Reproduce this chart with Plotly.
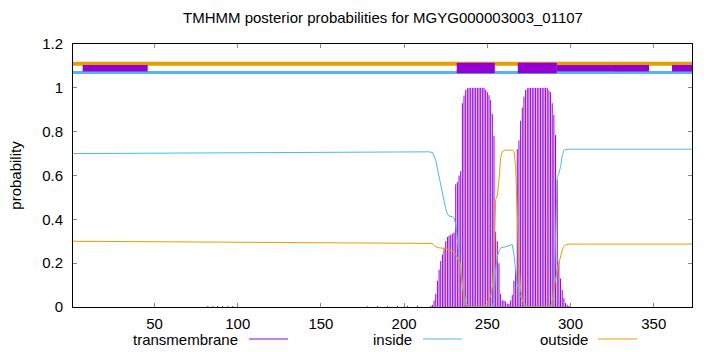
import plotly.graph_objects as go

# ---------------- data ----------------
title_text = "TMHMM posterior probabilities for MGYG000003003_01107"
seq_len = 373
x_ticks = [50, 100, 150, 200, 250, 300, 350]
y_ticks = [0, 0.2, 0.4, 0.6, 0.8, 1.0, 1.2]
y_tick_labels = ["0", "0.2", "0.4", "0.6", "0.8", "1", "1.2"]
legend_names = ["transmembrane", "inside", "outside"]

# transmembrane posterior (impulses), residues with visible values
tm_pos = [82, 85, 88, 91, 94, 97, 178, 184, 190, 196, 202, 208,
          216, 217, 218, 219, 220, 221, 222, 223, 224, 225, 226, 227, 228, 229, 230,
          231, 232, 233, 234, 235, 236, 237, 238, 239, 240, 241, 242, 243, 244, 245,
          246, 247, 248, 249, 250, 251, 252, 253, 254, 255, 256, 257, 258, 259, 260,
          261, 262, 263, 264, 265, 266, 267, 268, 269, 270, 271, 272, 273, 274, 275,
          276, 277, 278, 279, 280, 281, 282, 283, 284, 285, 286, 287, 288, 289, 290,
          291, 292, 293, 294, 295, 296, 297, 298, 299, 300]
tm_val = [0.004, 0.004, 0.005, 0.005, 0.004, 0.004, 0.003, 0.004, 0.004, 0.005, 0.005, 0.006,
          0.005, 0.01, 0.03, 0.06, 0.12, 0.17, 0.21, 0.24, 0.27, 0.30, 0.32, 0.325, 0.33, 0.335, 0.34,
          0.56, 0.57, 0.60, 0.62, 0.93, 0.965, 0.99, 0.998, 1.0, 1.0, 1.0, 1.0, 1.0, 1.0, 1.0,
          1.0, 1.0, 1.0, 0.99, 0.98, 0.967, 0.944, 0.88, 0.78, 0.344, 0.30, 0.20, 0.06, 0.03, 0.03,
          0.025, 0.015, 0.015, 0.03, 0.055, 0.12, 0.17, 0.72, 0.76, 0.85, 0.91, 0.96, 0.99, 0.998, 1.0,
          1.0, 1.0, 1.0, 1.0, 1.0, 1.0, 1.0, 1.0, 1.0, 1.0, 1.0, 0.99, 0.98, 0.93, 0.876,
          0.785, 0.58, 0.207, 0.13, 0.078, 0.04, 0.018, 0.01, 0.005, 0.015]

# inside posterior (read points)
inside_pos = [1, 50, 100, 150, 200, 215, 217, 218, 219, 220, 221, 222, 223, 224, 225, 226,
              227, 229, 230, 231, 232, 233, 234, 235, 236, 237, 238, 239, 240, 253, 254, 255,
              256, 257, 258, 261, 264, 265, 266, 267, 268, 269, 270, 271, 272, 273, 274, 275,
              289, 290, 291, 292, 293, 294, 295, 296, 298, 320, 373]
inside_val = [0.700, 0.702, 0.705, 0.706, 0.707, 0.708, 0.705, 0.69, 0.67, 0.63, 0.594, 0.55,
              0.51, 0.47, 0.45, 0.425, 0.415, 0.412, 0.405, 0.38, 0.30, 0.23, 0.16, 0.10, 0.055,
              0.025, 0.01, 0.003, 0.0, 0.0, 0.03, 0.17, 0.23, 0.255, 0.27, 0.275, 0.285, 0.285,
              0.24, 0.17, 0.10, 0.065, 0.045, 0.03, 0.02, 0.01, 0.005, 0.0, 0.0, 0.05, 0.30,
              0.59, 0.61, 0.64, 0.69, 0.715, 0.72, 0.72, 0.72]

# outside posterior (read points)
outside_pos = [1, 50, 100, 150, 200, 215, 217, 218, 219, 221, 224, 227, 229, 230, 231, 232,
               233, 234, 235, 236, 237, 238, 247, 249, 250, 251, 252, 253, 254, 255, 256, 257,
               258, 259, 261, 265, 266, 267, 268, 269, 270, 271, 272, 273, 288, 289, 290, 291,
               292, 293, 294, 295, 296, 297, 299, 320, 373]
outside_val = [0.300, 0.298, 0.295, 0.294, 0.293, 0.292, 0.29, 0.28, 0.275, 0.27, 0.268, 0.26,
               0.255, 0.25, 0.24, 0.225, 0.21, 0.19, 0.10, 0.04, 0.01, 0.0, 0.0, 0.01, 0.02,
               0.035, 0.05, 0.09, 0.19, 0.49, 0.51, 0.58, 0.68, 0.71, 0.716, 0.716, 0.71, 0.64,
               0.42, 0.20, 0.08, 0.035, 0.015, 0.0, 0.0, 0.03, 0.08, 0.13, 0.17, 0.20, 0.23,
               0.26, 0.275, 0.283, 0.287, 0.287, 0.287]

# topology band at the top
band_outside_y = 1.11
band_outside_span = [1, 392]
band_inside_y = 1.07
band_inside_span = [1, 373]
tm_full_start = [231.6, 268.3]
tm_full_end = [254.5, 291.8]
tm_thin_start = [6.8, 291.8, 310.5, 325.5, 361.0]
tm_thin_end = [45.9, 310.5, 325.5, 347.2, 382.7]

# ---------------- styling ----------------
PURPLE = "#9400d3"
BLUE = "#56b4e9"
ORANGE = "#e69f00"
FONT = "Liberation Sans, Arial, sans-serif"
FS = 15
Y_MAX = 1.2
X_RANGE = [1, seq_len]

fig = go.Figure()

imp_x, imp_y = [], []
for p, v in zip(tm_pos, tm_val):
    imp_x += [p, p, None]
    imp_y += [0, v, None]

fig.add_trace(go.Scatter(x=imp_x, y=imp_y, mode="lines",
                         line=dict(color=PURPLE, width=1, simplify=False),
                         name=legend_names[0], showlegend=False, hoverinfo="skip"))
fig.add_trace(go.Scatter(x=inside_pos, y=inside_val, mode="lines",
                         line=dict(color=BLUE, width=1),
                         name=legend_names[1], showlegend=False))
fig.add_trace(go.Scatter(x=outside_pos, y=outside_val, mode="lines",
                         line=dict(color=ORANGE, width=1),
                         name=legend_names[2], showlegend=False))


def yp(v):
    return v / Y_MAX


shapes = []
shapes.append(dict(type="line", xref="x", yref="paper",
                   x0=band_outside_span[0], x1=band_outside_span[1],
                   y0=yp(band_outside_y), y1=yp(band_outside_y),
                   line=dict(color=ORANGE, width=4), layer="above"))
shapes.append(dict(type="line", xref="x", yref="paper",
                   x0=band_inside_span[0], x1=band_inside_span[1],
                   y0=yp(band_inside_y), y1=yp(band_inside_y),
                   line=dict(color=BLUE, width=3), layer="above"))
for s, e in zip(tm_thin_start, tm_thin_end):
    shapes.append(dict(type="rect", xref="x", yref="paper", x0=s, x1=e,
                       y0=yp(1.075), y1=yp(1.104),
                       fillcolor=PURPLE, line=dict(width=0), layer="above"))
for s, e in zip(tm_full_start, tm_full_end):
    shapes.append(dict(type="rect", xref="x", yref="paper", x0=s, x1=e,
                       y0=yp(1.066), y1=yp(1.115),
                       fillcolor=PURPLE, line=dict(width=0), layer="above"))

# custom legend (text before sample, gnuplot style)
L, R, T, B = 73, 28, 44, 45
W, H = 720, 352
pw, ph = W - L - R, H - T - B


def px2x(px):
    return (px - L) / pw


def py2y(py):
    return (H - B - py) / ph


annotations = []
leg_y = 339
leg_items = [(legend_names[0], 240, 249, 288, PURPLE),
             (legend_names[1], 414, 423, 462, BLUE),
             (legend_names[2], 590, 598, 637, ORANGE)]
for name, tx, l0, l1, col in leg_items:
    annotations.append(dict(text=name, xref="paper", yref="paper",
                            x=px2x(tx), y=py2y(leg_y), xanchor="right", yanchor="middle",
                            showarrow=False, font=dict(family=FONT, size=FS, color="black")))
    shapes.append(dict(type="line", xref="paper", yref="paper",
                       x0=px2x(l0), x1=px2x(l1), y0=py2y(leg_y), y1=py2y(leg_y),
                       line=dict(color=col, width=1)))

fig.update_layout(
    width=W, height=H,
    margin=dict(l=L, r=R, t=T, b=B),
    paper_bgcolor="white", plot_bgcolor="white",
    font=dict(family=FONT, size=FS, color="black"),
    title=dict(text=title_text, x=px2x(383), xref="paper", xanchor="center",
               y=1 - 18 / H, yanchor="middle", font=dict(family=FONT, size=FS, color="black")),
    showlegend=False,
    shapes=shapes,
    annotations=annotations,
)
fig.update_xaxes(range=X_RANGE, tickvals=x_ticks, ticks="inside", ticklen=4,
                 tickcolor="#888888", showline=True, linecolor="black", linewidth=1,
                 mirror="ticks", showgrid=False, zeroline=False,
                 ticklabelstandoff=3, tickfont=dict(family=FONT, size=FS, color="black"))
fig.update_yaxes(range=[0, Y_MAX], tickvals=y_ticks, ticktext=y_tick_labels,
                 ticks="inside", ticklen=4, tickcolor="#888888",
                 showline=True, linecolor="black", linewidth=1, mirror="ticks",
                 showgrid=False, zeroline=False, ticklabelstandoff=6,
                 tickfont=dict(family=FONT, size=FS, color="black"),
                 title=dict(text="probability", standoff=16,
                            font=dict(family=FONT, size=FS, color="black")))

fig.write_html("out.html")
